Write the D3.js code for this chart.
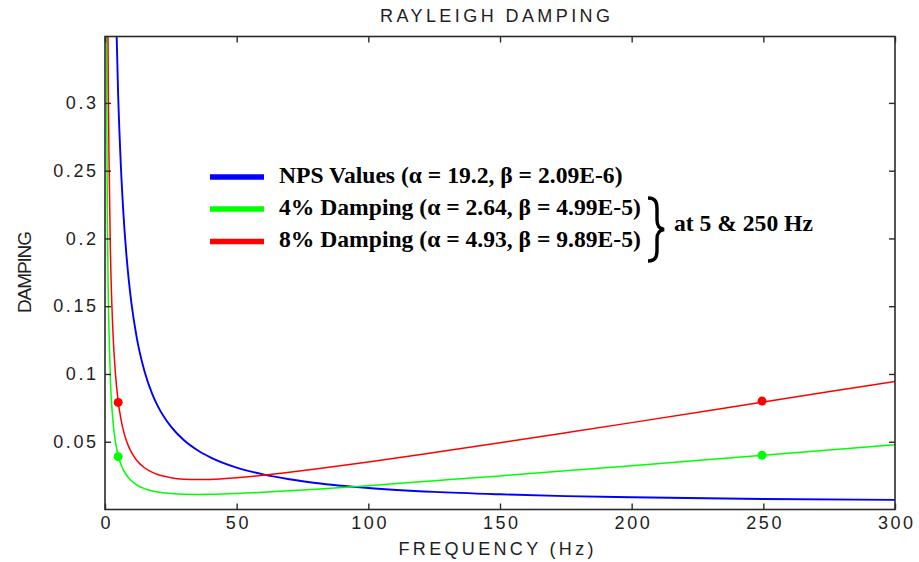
<!DOCTYPE html>
<html>
<head>
<meta charset="utf-8">
<script src="https://cdn.jsdelivr.net/npm/d3@7"></script>
<style>
  html, body { margin: 0; padding: 0; background: #fff; }
  svg { display: block; }
</style>
</head>
<body>
<svg id="chart" width="919" height="562"></svg>
<script>
// ---- Data ----
const frequencies = [0.5, 0.75, 1, 1.25, 1.5, 2, 3, 4, 5, 6, 7, 8, 9, 10, 12, 15, 18, 20, 25, 30, 35, 40, 50, 60, 70, 80, 100, 125, 150, 175, 200, 250, 300];
const npsValues   = [3.0558, 2.0372, 1.5279, 1.2223, 1.0186, 0.7640, 0.5093, 0.3820, 0.3056, 0.2547, 0.2183, 0.1910, 0.1698, 0.1529, 0.1274, 0.1020, 0.0850, 0.0765, 0.0613, 0.0511, 0.0439, 0.0385, 0.0309, 0.0259, 0.0223, 0.0196, 0.0159, 0.0130, 0.0112, 0.0099, 0.0090, 0.0078, 0.0071];
const damping4    = [0.3922, 0.2616, 0.1962, 0.1571, 0.1330, 0.0984, 0.0658, 0.0497, 0.0400, 0.0336, 0.0291, 0.0258, 0.0232, 0.0212, 0.0182, 0.0154, 0.0137, 0.0129, 0.0118, 0.0112, 0.0111, 0.0112, 0.0118, 0.0127, 0.0138, 0.0150, 0.0176, 0.0212, 0.0248, 0.0286, 0.0323, 0.0400, 0.0477];
const damping8    = [0.7848, 0.5233, 0.3926, 0.3143, 0.2620, 0.1968, 0.1317, 0.0993, 0.0800, 0.0673, 0.0582, 0.0515, 0.0464, 0.0423, 0.0364, 0.0308, 0.0274, 0.0258, 0.0235, 0.0224, 0.0221, 0.0222, 0.0234, 0.0252, 0.0274, 0.0298, 0.0350, 0.0420, 0.0492, 0.0566, 0.0641, 0.0793, 0.0945];

const markerFreqs   = [5, 249.5];
const marker4Values = [0.039, 0.040];
const marker8Values = [0.079, 0.080];

const xTickValues = [0, 50, 100, 150, 200, 250, 300];
const xTickLabels = ["0", "50", "100", "150", "200", "250", "300"];
const yTickValues = [0.05, 0.1, 0.15, 0.2, 0.25, 0.3];
const yTickLabels = ["0.05", "0.1", "0.15", "0.2", "0.25", "0.3"];

const seriesNames = ["NPS Values (α = 19.2, β = 2.09E-6)", "4% Damping (α = 2.64, β = 4.99E-5)", "8% Damping (α = 4.93, β = 9.89E-5)"];
const seriesColors = ["#0000ff", "#00ff00", "#ff0000"];

// ---- Layout ----
const svg = d3.select("#chart");
const pLeft = 105, pRight = 895, pTop = 36.5, pBottom = 509.5;

const x = d3.scaleLinear().domain([0, 300]).range([pLeft, pRight]);
const y = d3.scaleLinear().domain([0, 0.349]).range([pBottom, pTop]);

const tickFont = "'Liberation Sans', Arial, sans-serif";
const ink = "#1e1e1e";

// clip
svg.append("defs").append("clipPath").attr("id", "plotclip")
  .append("rect").attr("x", pLeft).attr("y", pTop).attr("width", pRight - pLeft).attr("height", pBottom - pTop);

// curves
const line = d3.line().x(d => x(d[0])).y(d => y(d[1])).curve(d3.curveMonotoneX);
const seriesData = [npsValues, damping4, damping8];
const widths = [1.9, 1.5, 1.5];
const g = svg.append("g").attr("clip-path", "url(#plotclip)");
seriesData.forEach((vals, i) => {
  g.append("path")
    .datum(frequencies.map((f, j) => [f, vals[j]]))
    .attr("fill", "none")
    .attr("stroke", seriesColors[i])
    .attr("stroke-width", widths[i])
    .attr("d", line);
});

// markers
[[marker4Values, seriesColors[1]], [marker8Values, seriesColors[2]]].forEach(([vals, c]) => {
  g.selectAll(null).data(markerFreqs.map((f, j) => [f, vals[j]])).enter()
    .append("circle")
    .attr("cx", d => x(d[0])).attr("cy", d => y(d[1]))
    .attr("r", 4.5).attr("fill", c);
});

// frame
svg.append("rect").attr("x", pLeft).attr("y", pTop).attr("width", pRight - pLeft).attr("height", pBottom - pTop)
  .attr("fill", "none").attr("stroke", "#2a2a2a").attr("stroke-width", 1.6);

// axes
function styleAxis(sel) {
  sel.select(".domain").remove();
  sel.selectAll(".tick line").attr("stroke", "#2a2a2a").attr("stroke-width", 1.4);
  sel.selectAll(".tick text").attr("fill", ink).style("font-family", tickFont)
     .style("font-size", "18px").style("letter-spacing", "2.6px");
}
const xAxis = svg.append("g").attr("transform", `translate(0,${pBottom})`)
  .call(d3.axisBottom(x).tickValues(xTickValues).tickFormat((d, i) => xTickLabels[i]).tickSize(-6).tickSizeOuter(0).tickPadding(7));
styleAxis(xAxis);
xAxis.selectAll(".tick text").attr("dx", "1.3");

const yAxis = svg.append("g").attr("transform", `translate(${pLeft},0)`)
  .call(d3.axisLeft(y).tickValues(yTickValues).tickFormat((d, i) => yTickLabels[i]).tickSize(-6).tickSizeOuter(0).tickPadding(9));
styleAxis(yAxis);
yAxis.selectAll(".tick text").attr("dx", "2.6");

const topAxis = svg.append("g").attr("transform", `translate(0,${pTop})`)
  .call(d3.axisTop(x).tickValues(xTickValues).tickFormat("").tickSize(-6).tickSizeOuter(0));
styleAxis(topAxis);
const rightAxis = svg.append("g").attr("transform", `translate(${pRight},0)`)
  .call(d3.axisRight(y).tickValues(yTickValues).tickFormat("").tickSize(-6).tickSizeOuter(0));
styleAxis(rightAxis);

// title and axis labels
svg.append("text").attr("x", 495).attr("y", 22).attr("text-anchor", "middle")
  .attr("textLength", 230).attr("lengthAdjust", "spacing")
  .style("font-family", tickFont).style("font-size", "18px").attr("fill", ink)
  .text("RAYLEIGH DAMPING");
svg.append("text").attr("x", 496).attr("y", 555).attr("text-anchor", "middle")
  .attr("textLength", 195).attr("lengthAdjust", "spacing")
  .style("font-family", tickFont).style("font-size", "18px").attr("fill", ink)
  .text("FREQUENCY (Hz)");
svg.append("text").attr("transform", "translate(31,272) rotate(-90)").attr("text-anchor", "middle")
  .attr("textLength", 82).attr("lengthAdjust", "spacing")
  .style("font-family", tickFont).style("font-size", "19px").attr("fill", ink)
  .text("DAMPING");

// legend
const legY = [177, 209, 241.5];
const leg = svg.append("g");
seriesNames.forEach((name, i) => {
  leg.append("line").attr("x1", 210).attr("x2", 264).attr("y1", legY[i]).attr("y2", legY[i])
    .attr("stroke", seriesColors[i]).attr("stroke-width", 5.5);
  leg.append("text").attr("x", 279).attr("y", legY[i] + 5.5)
    .style("font-family", "'Liberation Serif', 'Times New Roman', serif")
    .style("font-size", "23.6px").style("font-weight", "bold").attr("fill", "#000")
    .text(name);
});
// brace
leg.append("path")
  .attr("d", "M648,198 C656,198 657,203 657,209 L657,220 C657,226 659,228.5 664,229.5 C659,230.5 657,233 657,239 L657,250 C657,256 656,261 648,261")
  .attr("fill", "none").attr("stroke", "#000").attr("stroke-width", 3.4);
leg.append("text").attr("x", 674).attr("y", 230.5)
  .style("font-family", "'Liberation Serif', 'Times New Roman', serif")
  .style("font-size", "23.6px").style("font-weight", "bold").attr("fill", "#000")
  .text("at 5 & 250 Hz");
</script>
</body>
</html>
